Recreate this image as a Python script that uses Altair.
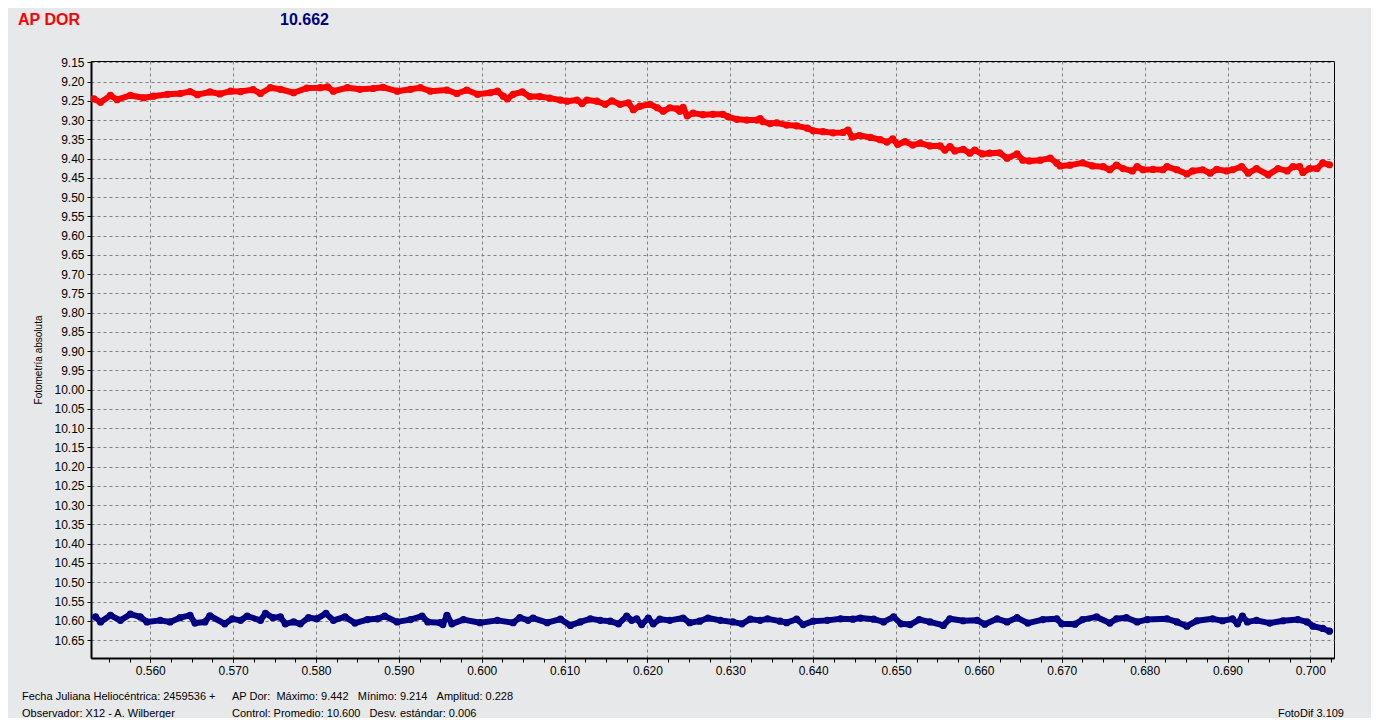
import altair as alt
import pandas as pd

# ---- data ----
red_t = [0.5532, 0.5540, 0.5552, 0.5560, 0.5576, 0.5592, 0.5604, 0.5621, 0.5636, 0.5648,
         0.5657, 0.5672, 0.5684, 0.5697, 0.5709, 0.5724, 0.5733, 0.5745, 0.5757, 0.5773,
         0.5789, 0.5805, 0.5814, 0.5821, 0.5838, 0.5853, 0.5869, 0.5881, 0.5898, 0.5914,
         0.5926, 0.5938, 0.5958, 0.5970, 0.5982, 0.5995, 0.6010, 0.6019, 0.6026, 0.6031,
         0.6038, 0.6049, 0.6058, 0.6070, 0.6082, 0.6095, 0.6103, 0.6115, 0.6121, 0.6127,
         0.6139, 0.6149, 0.6157, 0.6167, 0.6177, 0.6183, 0.6191, 0.6203, 0.6212, 0.6219,
         0.6227, 0.6236, 0.6239, 0.6243, 0.6248, 0.6255, 0.6267, 0.6279, 0.6291, 0.6297,
         0.6308, 0.6320, 0.6332, 0.6336, 0.6339, 0.6348, 0.6356, 0.6368, 0.6380, 0.6393,
         0.6400, 0.6412, 0.6424, 0.6436, 0.6442, 0.6447, 0.6456, 0.6469, 0.6481, 0.6489,
         0.6496, 0.6502, 0.6511, 0.6520, 0.6529, 0.6541, 0.6553, 0.6559, 0.6565, 0.6571,
         0.6581, 0.6589, 0.6595, 0.6604, 0.6613, 0.6625, 0.6634, 0.6646, 0.6653, 0.6661,
         0.6674, 0.6686, 0.6694, 0.6698, 0.6710, 0.6725, 0.6737, 0.6750, 0.6758, 0.6766,
         0.6774, 0.6785, 0.6791, 0.6798, 0.6810, 0.6822, 0.6827, 0.6839, 0.6851, 0.6858,
         0.6870, 0.6879, 0.6887, 0.6899, 0.6906, 0.6917, 0.6925, 0.6935, 0.6949, 0.6961,
         0.6972, 0.6979, 0.6987, 0.6991, 0.6999, 0.7008, 0.7015, 0.7023]
red_mag = [9.245, 9.254, 9.236, 9.247, 9.236, 9.242, 9.238, 9.233, 9.231, 9.226,
           9.234, 9.227, 9.232, 9.225, 9.226, 9.221, 9.231, 9.216, 9.220, 9.229,
           9.217, 9.216, 9.214, 9.225, 9.216, 9.220, 9.218, 9.215, 9.225, 9.220,
           9.216, 9.225, 9.222, 9.231, 9.222, 9.233, 9.229, 9.225, 9.238, 9.245,
           9.233, 9.227, 9.239, 9.239, 9.243, 9.248, 9.251, 9.248, 9.257, 9.248,
           9.251, 9.259, 9.250, 9.259, 9.255, 9.273, 9.264, 9.259, 9.268, 9.277,
           9.268, 9.271, 9.277, 9.267, 9.289, 9.282, 9.286, 9.285, 9.285, 9.291,
           9.298, 9.300, 9.300, 9.296, 9.304, 9.309, 9.307, 9.313, 9.315, 9.321,
           9.328, 9.330, 9.333, 9.332, 9.326, 9.344, 9.340, 9.345, 9.351, 9.357,
           9.349, 9.363, 9.356, 9.365, 9.360, 9.367, 9.367, 9.378, 9.369, 9.380,
           9.376, 9.386, 9.378, 9.388, 9.386, 9.385, 9.399, 9.388, 9.404, 9.406,
           9.404, 9.399, 9.412, 9.419, 9.417, 9.411, 9.419, 9.421, 9.429, 9.417,
           9.426, 9.432, 9.421, 9.429, 9.428, 9.429, 9.421, 9.429, 9.440, 9.432,
           9.429, 9.438, 9.428, 9.432, 9.429, 9.421, 9.438, 9.426, 9.442, 9.426,
           9.432, 9.421, 9.421, 9.436, 9.426, 9.426, 9.411, 9.416]

blue_t = [0.5534, 0.5540, 0.5552, 0.5564, 0.5576, 0.5588, 0.5596, 0.5612, 0.5624, 0.5636,
          0.5648, 0.5654, 0.5666, 0.5672, 0.5690, 0.5699, 0.5709, 0.5717, 0.5733, 0.5739,
          0.5748, 0.5757, 0.5763, 0.5773, 0.5781, 0.5791, 0.5801, 0.5812, 0.5821, 0.5835,
          0.5847, 0.5862, 0.5874, 0.5883, 0.5898, 0.5914, 0.5928, 0.5935, 0.5950, 0.5953,
          0.5958, 0.5964, 0.5978, 0.5998, 0.6019, 0.6038, 0.6046, 0.6056, 0.6062, 0.6079,
          0.6095, 0.6107, 0.6119, 0.6131, 0.6143, 0.6155, 0.6165, 0.6175, 0.6181, 0.6187,
          0.6193, 0.6201, 0.6207, 0.6215, 0.6227, 0.6243, 0.6251, 0.6263, 0.6273, 0.6288,
          0.6303, 0.6314, 0.6324, 0.6336, 0.6345, 0.6360, 0.6368, 0.6380, 0.6388, 0.6400,
          0.6417, 0.6433, 0.6448, 0.6457, 0.6473, 0.6485, 0.6497, 0.6506, 0.6517, 0.6528,
          0.6541, 0.6557, 0.6565, 0.6581, 0.6598, 0.6607, 0.6622, 0.6634, 0.6646, 0.6659,
          0.6677, 0.6694, 0.6700, 0.6716, 0.6725, 0.6742, 0.6758, 0.6766, 0.6778, 0.6791,
          0.6803, 0.6827, 0.6839, 0.6851, 0.6863, 0.6882, 0.6894, 0.6906, 0.6912, 0.6918,
          0.6924, 0.6935, 0.6951, 0.6967, 0.6985, 0.6996, 0.7003, 0.7015, 0.7023]
blue_mag = [10.590, 10.603, 10.586, 10.599, 10.583, 10.590, 10.603, 10.599, 10.603, 10.592,
            10.586, 10.606, 10.603, 10.587, 10.608, 10.595, 10.599, 10.588, 10.599, 10.581,
            10.592, 10.590, 10.608, 10.603, 10.608, 10.592, 10.595, 10.581, 10.599, 10.590,
            10.606, 10.597, 10.595, 10.588, 10.603, 10.597, 10.588, 10.603, 10.605, 10.610,
            10.586, 10.608, 10.597, 10.605, 10.599, 10.605, 10.592, 10.599, 10.593, 10.605,
            10.596, 10.612, 10.603, 10.595, 10.599, 10.601, 10.608, 10.588, 10.599, 10.595,
            10.610, 10.593, 10.608, 10.596, 10.599, 10.593, 10.605, 10.601, 10.593, 10.599,
            10.603, 10.608, 10.596, 10.599, 10.595, 10.601, 10.605, 10.596, 10.610, 10.601,
            10.599, 10.595, 10.596, 10.593, 10.596, 10.603, 10.590, 10.608, 10.610, 10.597,
            10.603, 10.612, 10.595, 10.600, 10.599, 10.609, 10.595, 10.603, 10.592, 10.606,
            10.597, 10.595, 10.608, 10.609, 10.597, 10.590, 10.606, 10.595, 10.592, 10.603,
            10.597, 10.595, 10.603, 10.614, 10.600, 10.595, 10.600, 10.595, 10.608, 10.588,
            10.603, 10.599, 10.606, 10.600, 10.597, 10.603, 10.614, 10.620, 10.627]

x_major = [0.560, 0.570, 0.580, 0.590, 0.600, 0.610, 0.620, 0.630,
           0.640, 0.650, 0.660, 0.670, 0.680, 0.690, 0.700]
x_minor = [round(0.555 + 0.0025 * i, 4) for i in range(60)]
y_ticks = [round(9.15 + 0.05 * i, 2) for i in range(31)]

NB = "\u00a0"
star_title = ["AP DOR"]
control_title = ["10.662"]
foot_left = ["Fecha Juliana Heliocéntrica: 2459536 +", "Observador: X12 - A. Wilberger"]
foot_mid = ["AP Dor:" + NB * 2 + "Máximo: 9.442" + NB * 3 + "Mínimo: 9.214" + NB * 3 + "Amplitud: 0.228",
            "Control: Promedio: 10.600" + NB * 3 + "Desv. estándar: 0.006"]
foot_right = ["FotoDif 3.109"]
y_title = "Fotometría absoluta"

RED = "#ff0000"
NAVY = "#000080"
BG = "#e7e8ea"
GRID = "#808080"
FONT = "Liberation Sans"

red_df = pd.DataFrame({"t": red_t, "mag": red_mag})
blue_df = pd.DataFrame({"t": blue_t, "mag": blue_mag})

xscale = alt.Scale(domain=[0.55285, 0.70285], nice=False, zero=False)
yscale = alt.Scale(domain=[9.1466, 10.6967], reverse=True, nice=False, zero=False)

y_enc = alt.Y("mag:Q", scale=yscale, axis=alt.Axis(
    values=y_ticks, format=".2f", title=y_title, grid=True, gridColor=GRID,
    gridDash=[3, 3], gridWidth=1, domainColor="black", domainWidth=2,
    tickColor="black", tickSize=4, tickWidth=1, labelFont=FONT, labelFontSize=12,
    labelColor="black", labelPadding=3, labelOverlap=False, titleFont=FONT,
    titleFontSize=10, titleFontWeight="normal", titleColor="black", titlePadding=10))

x_main = alt.X("t:Q", scale=xscale, axis=alt.Axis(
    values=x_major, format=".3f", title=None, grid=True, gridColor=GRID,
    gridDash=[3, 3], gridWidth=1, domainColor="black", domainWidth=2,
    tickColor="black", tickSize=4, tickWidth=1, labelFont=FONT, labelFontSize=12,
    labelColor="black", labelPadding=3, labelOverlap=False, labelFlush=False,
    orient="bottom"))
x_min = alt.X("t:Q", scale=xscale, axis=alt.Axis(
    values=x_minor, labels=False, grid=False, domain=False, tickColor="black",
    tickSize=4, tickWidth=1, title=None, orient="bottom"))
x_none = alt.X("t:Q", scale=xscale, axis=None)

red_line = alt.Chart(red_df).mark_line(color=RED, strokeWidth=6, strokeJoin="round", strokeCap="round", clip=True).encode(x=x_min, y=y_enc)
red_pts = alt.Chart(red_df).mark_circle(color=RED, size=52, opacity=1, clip=True).encode(x=x_main, y=y_enc)
blue_line = alt.Chart(blue_df).mark_line(color=NAVY, strokeWidth=6, strokeJoin="round", strokeCap="round", clip=True).encode(x=x_none, y=y_enc)
blue_pts = alt.Chart(blue_df).mark_circle(color=NAVY, size=52, opacity=1, clip=True).encode(x=x_none, y=y_enc)

star_txt = alt.Chart(pd.DataFrame({"s": star_title})).mark_text(
    align="left", baseline="alphabetic", font=FONT, fontSize=16, fontWeight="bold", color=RED
).encode(text="s:N", x=alt.value(-73), y=alt.value(-36))
ctrl_txt = alt.Chart(pd.DataFrame({"s": control_title})).mark_text(
    align="left", baseline="alphabetic", font=FONT, fontSize=16, fontWeight="bold", color=NAVY
).encode(text="s:N", x=alt.value(189), y=alt.value(-36))
left_txt = alt.Chart(pd.DataFrame({"s": ["\n".join(foot_left)]})).mark_text(
    align="left", baseline="alphabetic", font=FONT, fontSize=11, color="black",
    lineBreak="\n", lineHeight=17
).encode(text="s:N", x=alt.value(-69), y=alt.value(639))
mid_txt = alt.Chart(pd.DataFrame({"s": ["\n".join(foot_mid)]})).mark_text(
    align="left", baseline="alphabetic", font=FONT, fontSize=11, color="black",
    lineBreak="\n", lineHeight=17
).encode(text="s:N", x=alt.value(141), y=alt.value(639))
right_txt = alt.Chart(pd.DataFrame({"s": foot_right})).mark_text(
    align="right", baseline="alphabetic", font=FONT, fontSize=11, color="black"
).encode(text="s:N", x=alt.value(1253), y=alt.value(656))

chart = alt.layer(
    red_line, red_pts, blue_line, blue_pts, star_txt, ctrl_txt, left_txt, mid_txt, right_txt
).resolve_axis(x="independent").properties(
    width=1243, height=597,
    autosize=alt.AutoSizeParams(type="none"),
    padding={"left": 83, "top": 53, "right": 37, "bottom": 60},
    background=BG,
).configure_view(stroke="black", strokeWidth=1)

chart.save("out.html", embed_options={"renderer": "svg", "actions": False})
